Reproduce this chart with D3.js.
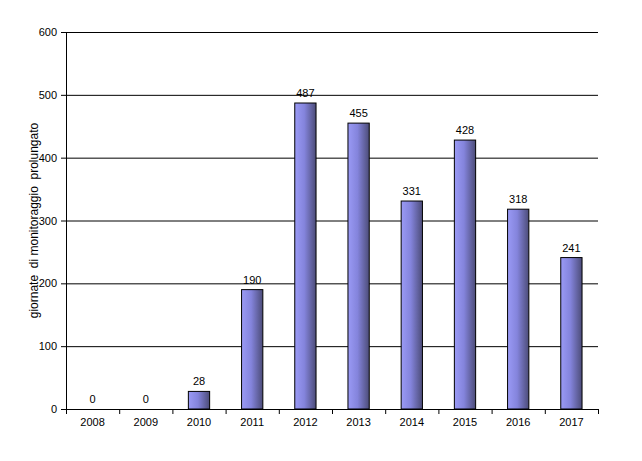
<!DOCTYPE html>
<html><head><meta charset="utf-8">
<script src="https://cdn.jsdelivr.net/npm/d3@7"></script>
<style>body{margin:0;background:#fff}text{font-family:Arial,"Liberation Sans",sans-serif}</style>
</head><body><div id="chart"></div>
<script>
const years = ["2008","2009","2010","2011","2012","2013","2014","2015","2016","2017"]
const giornate = [0,0,28,190,487,455,331,428,318,241]
const yTicks = [0,100,200,300,400,500,600]

const margin = {top: 32, right: 44, bottom: 52, left: 66}
const width = 642 - margin.left - margin.right
const height = 461 - margin.top - margin.bottom

const svg = d3.select("#chart").append("svg").attr("width", 642).attr("height", 461)
const grad = svg.append("defs").append("linearGradient").attr("id", "bar")
grad.append("stop").attr("offset", "0%").attr("stop-color", "#9a9af5")
grad.append("stop").attr("offset", "45%").attr("stop-color", "#8484dc")
grad.append("stop").attr("offset", "100%").attr("stop-color", "#4c4c78")

const g = svg.append("g").attr("transform", "translate(" + margin.left + "," + margin.top + ")")

const x = d3.scaleBand().domain(years).range([0, width]).paddingInner(0.6).paddingOuter(0.3)
const y = d3.scaleLinear().domain([0, 600]).range([height, 0])

// gridlines
g.selectAll(".grid").data(yTicks).enter().append("line")
  .attr("x1", 0).attr("x2", width)
  .attr("y1", d => y(d) + 0.5).attr("y2", d => y(d) + 0.5)
  .attr("stroke", "#000")

const yAxis = g.append("g").call(d3.axisLeft(y).tickValues(yTicks).tickSize(5).tickPadding(4))
const xAxis = g.append("g").attr("transform", "translate(0," + height + ")")
  .call(d3.axisBottom(d3.scalePoint().domain(d3.range(11)).range([0, width])).tickSize(5).tickFormat(""))
xAxis.select(".domain").remove()
g.append("g").attr("transform", "translate(0," + height + ")")
  .call(d3.axisBottom(x).tickSize(0).tickPadding(9))
  .select(".domain").attr("stroke", "#000")
svg.selectAll(".tick text").attr("font-size", 11).attr("fill", "#000")

g.selectAll(".bar").data(giornate).enter().append("rect")
  .attr("x", (d, i) => x(years[i]))
  .attr("width", x.bandwidth())
  .attr("y", d => y(d))
  .attr("height", d => height - y(d))
  .attr("fill", "url(#bar)").attr("stroke", "#000").attr("stroke-width", 1)

g.selectAll(".lbl").data(giornate).enter().append("text")
  .attr("x", (d, i) => x(years[i]) + x.bandwidth() / 2)
  .attr("y", d => y(d) - 6)
  .attr("text-anchor", "middle").attr("font-size", 11)
  .text(d => d)

svg.append("text")
  .attr("transform", "translate(38," + (margin.top + height / 2) + ") rotate(-90)")
  .attr("text-anchor", "middle").attr("font-size", 12)
  .attr("xml:space", "preserve")
  .text("giornate  di monitoraggio  prolungato")
</script></body></html>
